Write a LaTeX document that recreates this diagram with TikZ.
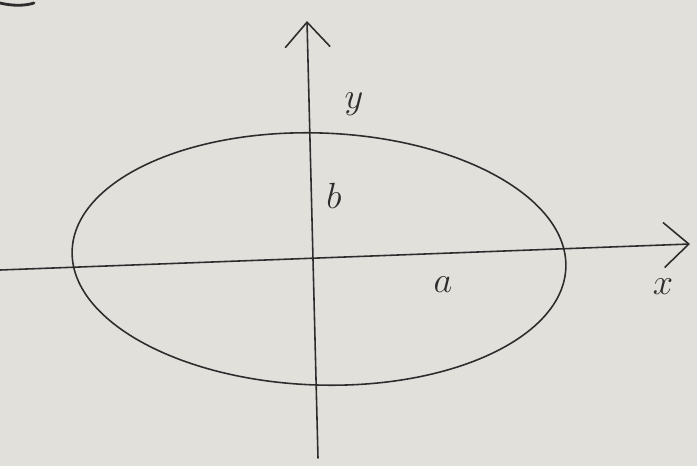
\documentclass[tikz,border=0pt]{standalone}
\usepackage{amsmath}
\usetikzlibrary{arrows.meta,positioning}

\definecolor{paper}{RGB}{226,224,219}
\definecolor{pencil}{RGB}{45,45,45}

\begin{document}
\begin{tikzpicture}[x=0.02cm, y=-0.02cm,
    pen/.style={draw=pencil, line width=0.9pt, line cap=round},
    axis/.style={pen, -{Straight Barb[length=5mm, width=9mm, line width=0.9pt]}},
    lbl/.style={text=pencil, font=\fontsize{22}{24}\selectfont}]
    \fill[paper] (0,0) rectangle (697,466);
    \useasboundingbox (0,0) rectangle (697,466);
    % axes
    \coordinate (xs) at (0,270);
    \coordinate (xe) at (690,244);
    \coordinate (ys) at (318,458);
    \coordinate (ye) at (307,21);
    \draw[axis] (xs) -- (xe);
    \draw[axis] (ys) -- (ye);
    % ellipse
    \coordinate (o) at (319,259);
    \draw[pen] (o) ellipse [x radius=247, y radius=126, rotate=-2];
    % labels
    \node[lbl] (y) at (354,104) {$y$};
    \node[lbl] (b) at (334,196) {$b$};
    \node[lbl] (a) at (443,285) {$a$};
    \node[lbl] (x) at (663,287) {$x$};
    % fragment at the corner
    \draw[pen, line width=1.6pt] (0,3) .. controls (12,6) and (25,6) .. (34,3);
\end{tikzpicture}
\end{document}
